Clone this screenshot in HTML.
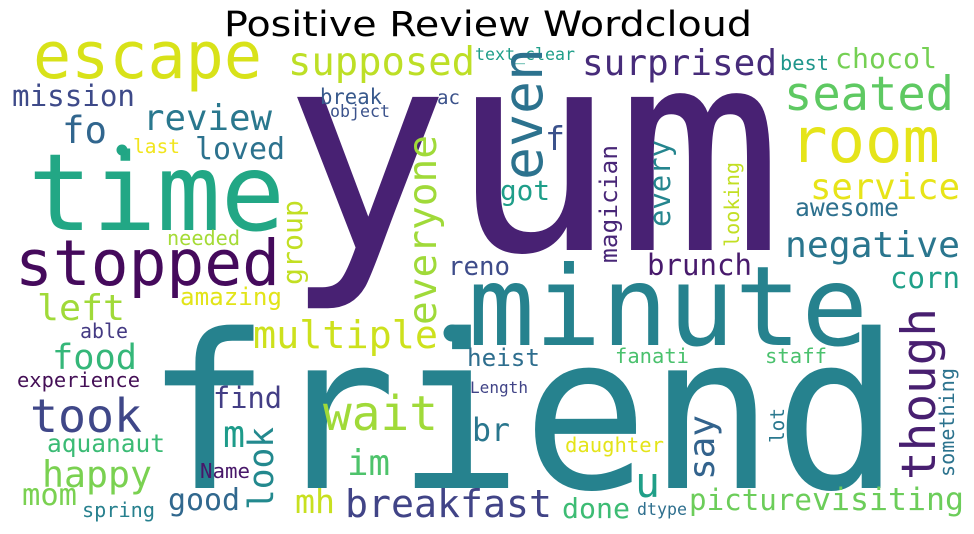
<!DOCTYPE html>
<html><head><meta charset="utf-8"><title>Positive Review Wordcloud</title>
<style>
html,body{margin:0;padding:0;background:#fff;}
svg{display:block;}
text{font-family:"DejaVu Sans Mono","Liberation Mono",monospace;}
</style></head>
<body>
<svg id="chart" width="974" height="534" viewBox="0 0 974 534" xmlns="http://www.w3.org/2000/svg">
<rect x="0" y="0" width="974" height="534" fill="#ffffff"/>
<text x="224" y="36" font-size="35" textLength="528" lengthAdjust="spacingAndGlyphs" style="font-family:'DejaVu Sans','Liberation Sans',sans-serif" fill="#000">Positive Review Wordcloud</text>
<g id="words"></g>
</svg>
<script>
const words = ["yum","friend","minute","time","escape","stopped","supposed","mission","review","fo","last","loved","break","object","ac","text_clear","group","everyone","needed","reno","even","surprised","best","chocol","seated","room","f","got","magician","every","looking","service","awesome","negative","brunch","corn","left","amazing","able","multiple","food","experience","took","find","wait","m","look","aquanaut","happy","im","Name","mom","spring","good","mh","breakfast","heist","Length","br","fanati","staff","though","something","lot","say","daughter","u","done","dtype","picture","visiting"];
const fontSizes = [280,215,111,107,65,63,39,29,36,37,19.5,30,21,17,19,17,28,39,20,26,55,36,20,28,47,62,33,28,24,29,20,36,25,36,29,29,36,24,20,38,35,20.5,46.5,29,48,37,34.5,24.5,36.5,36,20.7,30,20,30,33,38,24,16,32,20.5,20.6,47.6,20,19.4,36,20.5,42,28,17,29,31.5];
const wordX = [283,145,468,28,33,15,288,12,143,62,133,195,320,330,437,475,302,436,167,448,542,582,780,835,784,790,545,500,617,670,739,810,795,785,647,890,37,180,80,253,52,17,30,213,323,223,273,47,42,347,200,22,82,168,295,345,467,470,472,615,765,935,954,784,714,565,635,562,637,689,812];
const wordY = [250,488,345,230,78,285,75,106,130,143,153,159,104,117,104,60,285,325,245,275,180,75,70,68,110,162,150,200,263,227,247,199,216,257,275,288,320,305,338,348,369,387,432,408,430,447,510,452,487,475,478,505,517,510,513,517,366,393,441,363,363,480,477,443,480,452,497,518,515,510,510];
const wordLen = [500,755,400,257,229,265,187,123,129,45,47,90,62,60,23,100,85,190,73,62,132,195,49,102,170,150,20,50,118,87,85,150,104,175,105,70,88,102,48,185,85,123,112,69,115,22,83,118,110,43,50,55,73,72,40,207,73,58,38,74,62,172,109,35,65,99,25,68,50,123,152];
const rotated = [0,0,0,0,0,0,0,0,0,0,0,0,0,0,0,0,1,1,0,0,1,0,0,0,0,0,0,0,1,1,1,0,0,0,0,0,0,0,0,0,0,0,0,0,0,0,1,0,0,0,0,0,0,0,0,0,0,0,0,0,0,1,1,1,1,0,0,0,0,0,0];
const colors = ["#482173","#26828e","#26828e","#22a785","#d8e219","#450a5c","#bddf26","#3e4a89","#2a788e","#31668e","#f1e51d","#2c728e","#38598c","#3b528b","#3b528b","#1f9e89","#c2df23","#a0da39","#a5db36","#3e4c8a","#2c728e","#472c7a","#1f968b","#75d054","#5ec962","#e5e419","#3b528b","#1f9e89","#482677","#25858e","#c2df23","#e7e419","#2d708e","#2a768e","#481a6c","#1fa088","#a0da39","#e2e418","#443a83","#cde11d","#35b779","#440f56","#3f4788","#433e85","#a0da39","#1e9b8a","#23898e","#3bbb75","#7ad151","#4ec36b","#481769","#7ad151","#27808e","#31688e","#c8e020","#414487","#2e6e8e","#414487","#2a778e","#4ac16d","#4ac16d","#481f70","#2c738e","#2a788e","#33638d","#e4e419","#1f9f88","#3dbc74","#2e6f8e","#6ccd5a","#6ccd5a"];
const dotX = [122,452];
const dotY = [150,333];
const dotR = [5.5,8.5];
const dotColors = ["#21a685","#26828e"];

const NS = "http://www.w3.org/2000/svg";
const layer = document.getElementById("words");
for (let i = 0; i < words.length; i++) {
  const t = document.createElementNS(NS, "text");
  
  
  t.setAttribute("x", wordX[i]);
  t.setAttribute("y", wordY[i]);
  t.setAttribute("font-size", fontSizes[i]);
  t.setAttribute("fill", colors[i]);
  t.setAttribute("textLength", wordLen[i]);
  t.setAttribute("lengthAdjust", "spacingAndGlyphs");
  if (rotated[i]) t.setAttribute("transform", "rotate(-90 " + wordX[i] + " " + wordY[i] + ")");
  t.textContent = words[i];
  layer.appendChild(t);
}
for (let i = 0; i < dotX.length; i++) {
  const c = document.createElementNS(NS, "circle");
  
  
  c.setAttribute("cx", dotX[i]);
  c.setAttribute("cy", dotY[i]);
  c.setAttribute("r", dotR[i]);
  c.setAttribute("fill", dotColors[i]);
  layer.appendChild(c);
}
</script>
</body></html>
